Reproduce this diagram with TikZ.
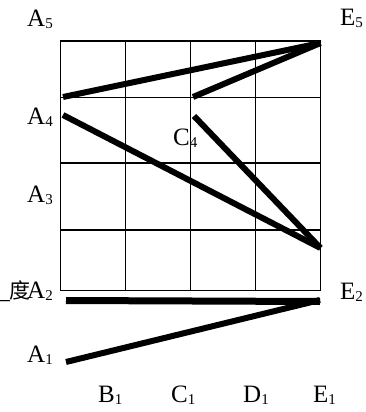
\documentclass[tikz,border=0pt]{standalone}
\usepackage{fontspec}
\setmainfont{Liberation Serif}
\newfontfamily\cjk{Noto Sans CJK SC}
\newcommand{\lblsub}[1]{\raisebox{-2pt}{\fontsize{15}{15}\selectfont #1}}
\begin{document}
\begin{tikzpicture}[x=1pt,y=-1pt,
  gridline/.style={line width=1.2pt, draw=black},
  heavy/.style={line width=6pt, line cap=butt},
  lbl/.style={anchor=base west, inner sep=0pt, font=\fontsize{25}{25}\selectfont}]
\useasboundingbox (0,0) rectangle (366,412);
% grid
\draw[gridline] (60.5,41) rectangle (320.5,290.5);
\foreach \xx in {125.5,190.5,255.5} \draw[gridline] (\xx,41) -- (\xx,290.5);
\foreach \yy in {97.5,163,230} \draw[gridline] (60.5,\yy) -- (320.5,\yy);
% endpoints
\coordinate (p1) at (63,97);
\coordinate (p2) at (193,97);
\coordinate (e5) at (320.5,43);
\coordinate (p3) at (63,115);
\coordinate (p4) at (194,116);
\coordinate (e3) at (320.5,248);
\coordinate (a2) at (66,300.5);
\coordinate (e2) at (320,301.5);
\coordinate (e2b) at (320,300);
\coordinate (a1) at (66,362);
% heavy lines
\draw[heavy] (p1) -- (e5);
\draw[heavy] (p2) -- (e5);
\draw[heavy] (p3) -- (e3);
\draw[heavy] (p4) -- (e3);
\draw[heavy, line width=7pt] (a2) -- (e2);
\draw[heavy] (a1) -- (e2b);
% labels
\node[lbl] (lA5) at (27,27) {A\lblsub{5}};
\node[lbl] (lE5) at (340,26) {E\lblsub{5}};
\node[lbl] (lA4) at (27,124) {A\lblsub{4}};
\node[lbl] (lC4) at (173,145) {C\lblsub{4}};
\node[lbl] (lA3) at (27,202) {A\lblsub{3}};
\node[anchor=base east, inner sep=0pt, font=\fontsize{25}{25}\selectfont] (ldu) at (31,298) {\_{\cjk\fontsize{21}{21}\selectfont 度}};
\node[lbl] (lA2) at (27,298) {A\lblsub{2}};
\node[lbl] (lE2) at (340,299) {E\lblsub{2}};
\node[lbl] (lA1) at (27,362) {A\lblsub{1}};
\node[lbl] (lB1) at (98,402) {B\lblsub{1}};
\node[lbl] (lC1) at (171,402) {C\lblsub{1}};
\node[lbl] (lD1) at (243,402) {D\lblsub{1}};
\node[lbl] (lE1) at (313,402) {E\lblsub{1}};
\end{tikzpicture}
\end{document}
